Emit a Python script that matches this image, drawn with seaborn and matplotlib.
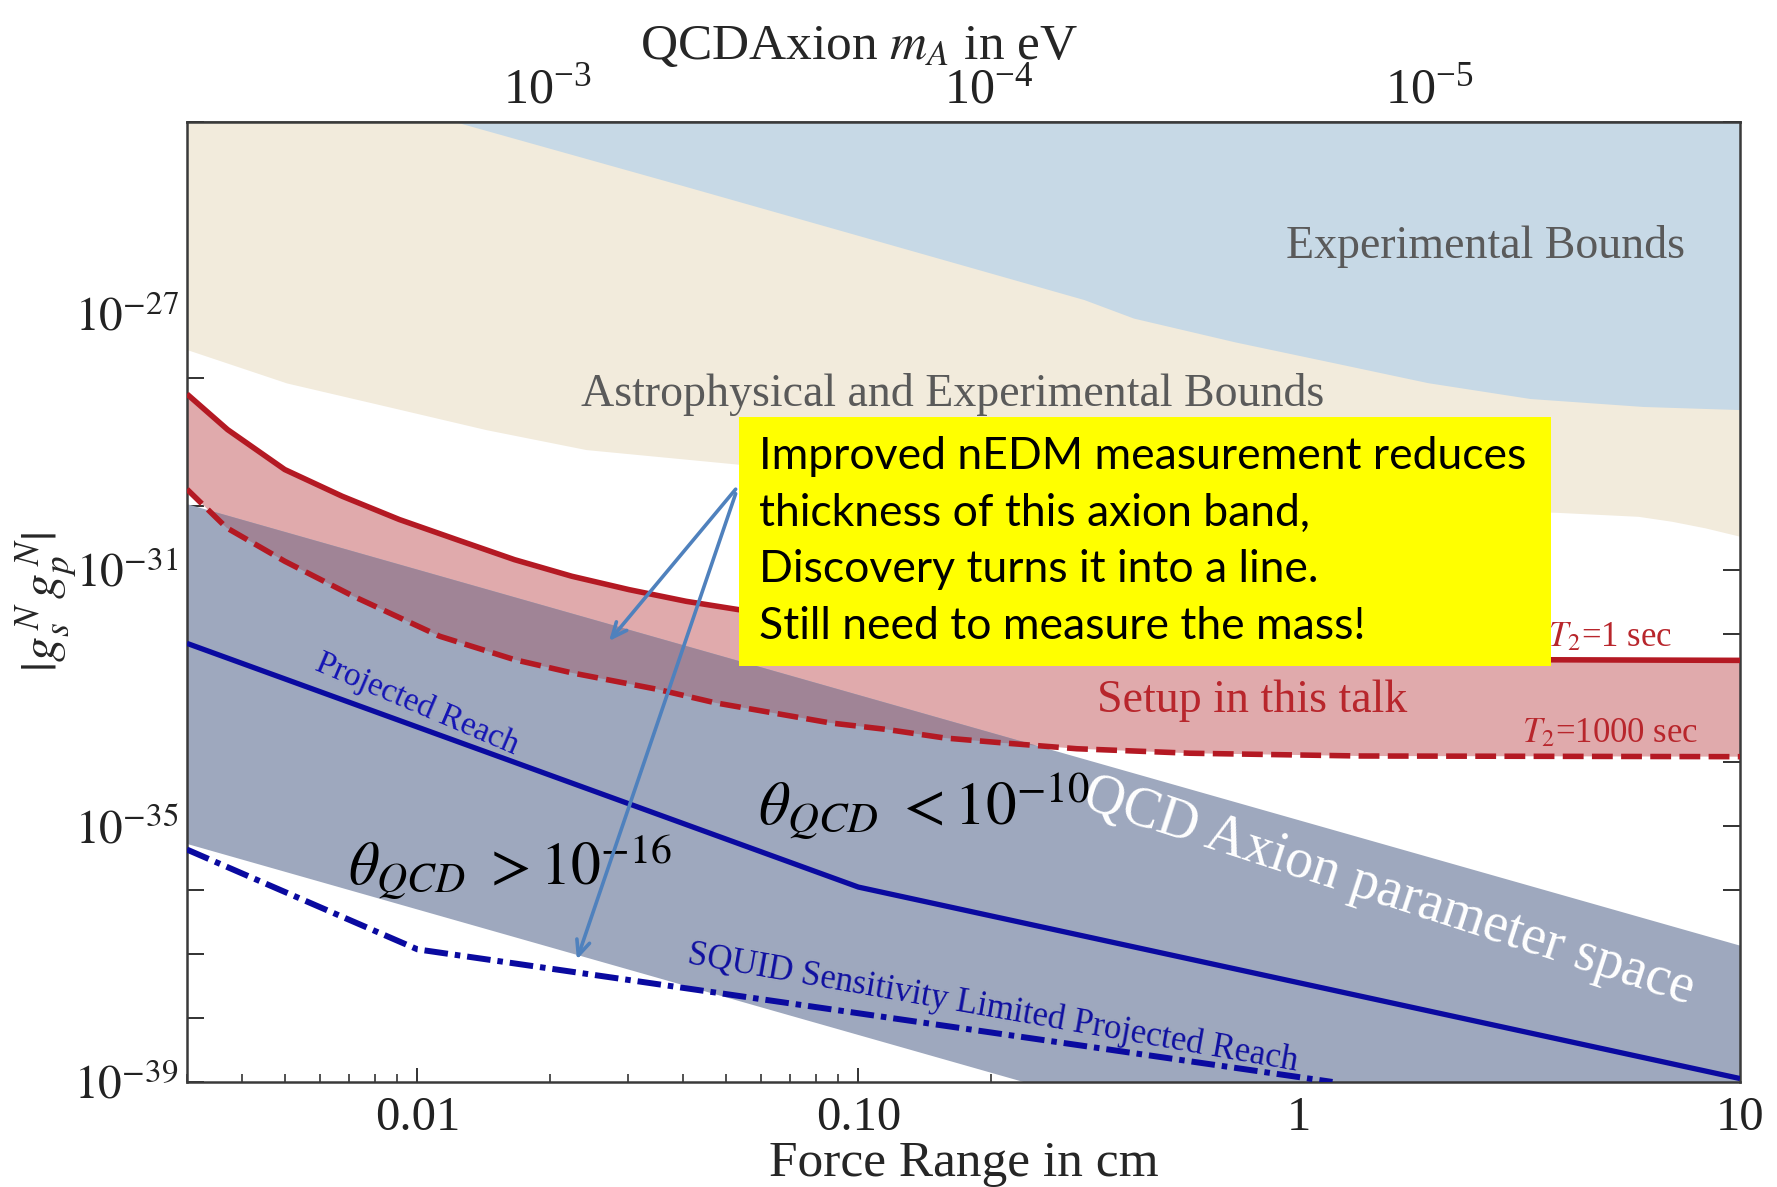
import numpy as np
import pandas as pd
import matplotlib
matplotlib.use("Agg")
import matplotlib.pyplot as plt
import seaborn as sns
from matplotlib.patches import Rectangle
from matplotlib.ticker import NullLocator, LogLocator, NullFormatter, FixedLocator

# ---------------- data ----------------
# Experimental bounds (upper blue region): lower boundary
exp_x = [0.01224, 0.0405, 0.1148, 0.325, 0.421, 0.716, 1.219, 1.958, 3.34, 6.03, 10.0]
exp_y = [1.0e-24, 9.9e-26, 1.29e-26, 1.68e-27, 8.63e-28, 3.66e-28, 1.69e-28, 8.45e-29,
         4.78e-29, 3.59e-29, 3.21e-29]

# Astrophysical and experimental bounds (beige region): lower boundary
astro_x = [0.003, 0.00505, 0.00849, 0.01431, 0.0241, 0.0536, 0.232, 1.02, 3.84, 5.87, 7.0, 8.35, 10.0]
astro_y = [2.78e-28, 8.37e-29, 3.63e-29, 1.56e-29, 7.62e-30, 4.49e-30, 2.0e-30, 1.07e-30,
           7.96e-31, 6.9e-31, 5.77e-31, 4.54e-31, 3.36e-31]

# Setup in this talk, T2 = 1 sec (solid red)
t1_x = [0.0030, 0.00371, 0.0050, 0.00675, 0.0091, 0.01228, 0.0166, 0.0224, 0.0302, 0.0407,
        0.0533, 0.1285, 0.42, 1.37, 10.0]
t1_y = [5.62e-29, 1.56e-29, 3.71e-30, 1.42e-30, 6.14e-31, 2.98e-31, 1.45e-31, 7.98e-32,
        4.93e-32, 3.24e-32, 2.41e-32, 1.07e-32, 5.37e-33, 4.04e-33, 3.87e-33]

# Setup in this talk, T2 = 1000 sec (dashed red)
t1000_x = [0.0030, 0.00369, 0.0050, 0.00716, 0.01124, 0.0166, 0.0224, 0.0351, 0.0474, 0.0640,
           0.0863, 0.1165, 0.157, 0.212, 0.313, 0.565, 1.374, 10.0]
t1000_y = [1.83e-30, 4.57e-31, 1.37e-31, 3.88e-32, 9.2e-33, 3.97e-33, 2.47e-33, 1.36e-33,
           8.4e-34, 5.85e-34, 4.08e-34, 3.21e-34, 2.37e-34, 1.99e-34, 1.61e-34, 1.37e-34,
           1.24e-34, 1.21e-34]

# QCD axion parameter space band
band_x = [0.003, 10.0]
band_top = [1.07e-30, 1.35e-37]
band_bot = [5.25e-36, 6.5e-43]

# Projected reach (solid blue)
reach_x = [0.003, 0.1, 10.0]
reach_y = [7.14e-33, 1.11e-36, 1.13e-39]

# SQUID sensitivity limited projected reach (dash-dot blue)
squid_x = [0.003, 0.01, 1.19]
squid_y = [4.28e-36, 1.18e-37, 1.0e-39]

x_ticks = [0.01, 0.1, 1, 10]
x_tick_labels = ["0.01", "0.10", "1", "10"]
y_tick_exps = list(range(-39, -23))
y_labelled_exps = [-39, -35, -31, -27]
mass_ticks = [1e-3, 1e-4, 1e-5]

box_lines = ["Improved nEDM measurement reduces",
             "thickness of this axion band,",
             "Discovery turns it into a line.",
             "Still need to measure the mass!"]

HBAR_C = 1.97e-5  # eV cm

# ---------------- style ----------------
sns.set_theme(style="white")
plt.rcParams["font.family"] = ["Liberation Serif", "DejaVu Serif"]
plt.rcParams["mathtext.fontset"] = "stix"
plt.rcParams["lines.scale_dashes"] = False

fig = plt.figure(figsize=(17.77, 11.87), dpi=100)
ax = fig.add_axes([0.1052, 0.0885, 0.874, 0.8087])
ax.set_xscale("log")
ax.set_yscale("log")
ax.set_xlim(0.003, 10)
ax.set_ylim(1e-39, 1e-24)

# regions
ax.fill_between(astro_x, astro_y, 1e-22, color="#f2ebdc", lw=0, zorder=1)
ax.fill_between(exp_x, exp_y, 1e-22, color="#c7d9e6", lw=0, zorder=1.1)
red_x = np.r_[t1_x, t1000_x[::-1]]
red_y = np.r_[t1_y, t1000_y[::-1]]
ax.fill(red_x, red_y, color="#e0aaac", lw=0, zorder=2)
band = ax.fill(np.r_[band_x, band_x[::-1]], np.r_[band_top, band_bot[::-1]],
               color="#9ea8be", lw=0, zorder=2.1)[0]
ov = ax.fill(red_x, red_y, color="#a08496", lw=0, zorder=2.2)[0]
ov.set_clip_path(band)

# lines
def sline(x, y, color, lw, dashes=None, z=3):
    df = pd.DataFrame({"x": x, "y": y})
    sns.lineplot(data=df, x="x", y="y", ax=ax, color=color, lw=lw,
                 estimator=None, sort=False, zorder=z)
    ln = ax.lines[-1]
    if dashes is not None:
        ln.set_dashes(dashes)
    ln.set_solid_capstyle("butt")
    ln.set_dash_capstyle("butt")
    ln.set_solid_joinstyle("round")
    return ln

sline(t1_x, t1_y, "#b41923", 4.0)
sline(t1000_x, t1000_y, "#b41923", 4.0, dashes=(15, 6))
sline(reach_x, reach_y, "#0a0aa0", 3.8)
sline(squid_x, squid_y, "#0a0aa0", 4.3, dashes=(17, 5, 4, 5))
ax.set_xlabel("")
ax.set_ylabel("")

# ticks
ax.set_xticks(x_ticks)
ax.set_xticklabels(x_tick_labels)
ax.xaxis.set_minor_locator(LogLocator(base=10, subs=np.arange(2, 10), numticks=30))
ax.xaxis.set_minor_formatter(NullFormatter())
ax.set_yticks([10.0 ** e for e in y_tick_exps])
ax.set_yticklabels([r"$10^{%d}$" % e if e in y_labelled_exps else "" for e in y_tick_exps])
ax.yaxis.set_minor_locator(NullLocator())
ax.tick_params(axis="x", which="both", direction="in", bottom=True, top=False,
               colors="#222222", labelsize=35, pad=10)
ax.tick_params(axis="x", which="major", length=10, width=1.3)
ax.tick_params(axis="x", which="minor", length=6, width=1.1)
ax.tick_params(axis="y", which="major", direction="in", left=True, right=True,
               length=12, width=1.3, labelsize=34, pad=6, colors="#222222")
for s in ax.spines.values():
    s.set_color("#3a3a3a")
    s.set_linewidth(1.8)
ax.set_xlabel("Force Range in cm", fontsize=37)
ax.xaxis.set_label_coords(0.5, -0.061)
ax.set_ylabel(r"$|g_s^{\,N}\,g_p^{\,N}|$", fontsize=36, labelpad=-4)


def m_from_x(x):
    x = np.asarray(x, dtype=float)
    with np.errstate(divide="ignore", invalid="ignore"):
        return HBAR_C / x


secax = ax.secondary_xaxis("top", functions=(m_from_x, m_from_x))
secax.xaxis.set_major_locator(FixedLocator(mass_ticks))
secax.xaxis.set_minor_formatter(NullFormatter())
secax.tick_params(which="both", direction="in", labelsize=36, pad=6, colors="#222222")
secax.tick_params(which="major", length=8, width=1.2)
secax.tick_params(which="minor", length=6, width=1.0)
secax.spines["top"].set_color("#3a3a3a")
secax.spines["top"].set_linewidth(1.8)
secax.set_xlabel(r"QCDAxion $m_A$ in eV", fontsize=37)
secax.xaxis.set_label_coords(0.433, 1.066, transform=ax.transAxes)

# region labels
T = ax.transAxes
ax.text(0.8358, 0.8701, "Experimental Bounds", transform=T, fontsize=33, color="#5a5a5a",
        ha="center", va="center", zorder=5)
ax.text(0.4927, 0.7166, "Astrophysical and Experimental Bounds", transform=T, fontsize=33,
        color="#5a5a5a", ha="center", va="center", zorder=5)
ax.text(0.6861, 0.3967, "Setup in this talk", transform=T, fontsize=33, color="#b8262c",
        ha="center", va="center", zorder=5)
ax.text(0.9161, 0.4628, r"$T_2$=1 sec", transform=T, fontsize=25, color="#b8262c",
        ha="center", va="center", zorder=5)
ax.text(0.9161, 0.3625, r"$T_2$=1000 sec", transform=T, fontsize=25, color="#b8262c",
        ha="center", va="center", zorder=5)
ax.text(0.1482, 0.3932, "Projected Reach", transform=T, fontsize=24, color="#1414b4",
        ha="center", va="center", rotation=-23, rotation_mode="anchor", zorder=5)
ax.text(0.519, 0.0767, "SQUID Sensitivity Limited Projected Reach", transform=T, fontsize=25,
        color="#0f0fa0", ha="center", va="center", rotation=-10, rotation_mode="anchor", zorder=5)
ax.text(0.7737, 0.1983, "QCD Axion parameter space", transform=T, fontsize=40, color="white",
        ha="center", va="center", rotation=-18, rotation_mode="anchor", zorder=5)
ax.text(0.4745, 0.2869, r"$\theta_{QCD}\ <10^{-10}$", transform=T, fontsize=44, color="black",
        ha="center", va="center", zorder=6)
ax.text(0.208, 0.2243, r"$\theta_{QCD}\ >10^{-16}$", transform=T, fontsize=43, color="black",
        ha="center", va="center", zorder=6)

# yellow call-out box
ax.add_patch(Rectangle((0.3555, 0.4333), 0.5226, 0.2597, transform=T, facecolor="#ffff00",
                       edgecolor="none", zorder=10))
for i, line in enumerate(box_lines):
    ax.text(0.3686, 0.6517 - i * 0.059, line, transform=T, fontsize=32, family="Lato",
            color="black", ha="left", va="center", zorder=11)

# arrows
for start, end in [((0.3533, 0.6175), (0.2718, 0.4593)), ((0.3533, 0.6128), (0.2511, 0.1275))]:
    ax.annotate("", xy=end, xytext=start, xycoords="axes fraction", textcoords="axes fraction",
                arrowprops=dict(arrowstyle="->,head_length=0.9,head_width=0.4",
                                color="#4f81bd", lw=2.6, shrinkA=0, shrinkB=0), zorder=12)

fig.savefig("out.png", dpi=100)
